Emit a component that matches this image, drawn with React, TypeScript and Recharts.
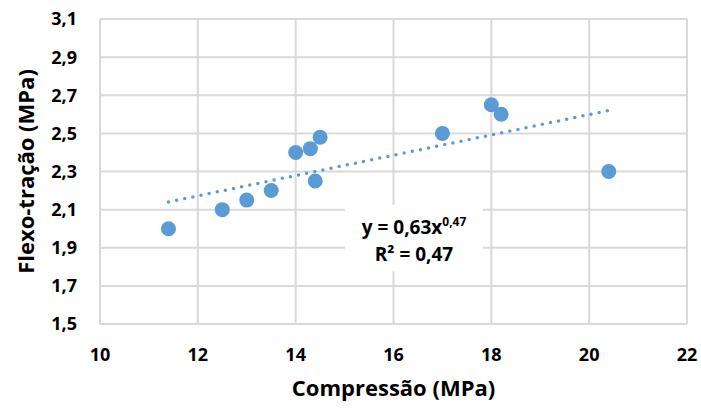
import React from 'react';
import {
  ScatterChart,
  Scatter,
  XAxis,
  YAxis,
  CartesianGrid,
  ReferenceLine,
} from 'recharts';

// Compressão (MPa) vs Flexo-tração (MPa)
const compressao = [11.4, 12.5, 13.0, 13.5, 14.0, 14.3, 14.4, 14.5, 17.0, 18.0, 18.2, 20.4];
const flexoTracao = [2.0, 2.1, 2.15, 2.2, 2.4, 2.42, 2.25, 2.48, 2.5, 2.65, 2.6, 2.3];

// trendline ends as drawn in the source
const trendX = [11.4, 20.4];
const trendY = [2.14, 2.62];

const xTicks = [10, 12, 14, 16, 18, 20, 22];
const yTicks = [1.5, 1.7, 1.9, 2.1, 2.3, 2.5, 2.7, 2.9, 3.1];

const points = compressao.map((x, i) => ({ x, y: flexoTracao[i] }));

const BLUE = '#5B9BD5';
const GRID = '#D9D9D9';
const FONT = '"Open Sans", sans-serif';

const tickStyle = { fontFamily: FONT, fontSize: 18, fontWeight: 700, fill: '#000' };

const Dot = (props: any) => <circle cx={props.cx} cy={props.cy} r={7.5} fill={BLUE} />;

const YTitle = ({ viewBox }: any) => {
  const cx = viewBox.x + 25;
  const cy = viewBox.y + viewBox.height / 2;
  return (
    <text
      x={cx}
      y={cy}
      transform={`rotate(-90 ${cx} ${cy})`}
      textAnchor="middle"
      dominantBaseline="central"
      style={{ fontFamily: FONT, fontSize: 22, fontWeight: 700, fill: '#000' }}
    >
      Flexo-tração (MPa)
    </text>
  );
};

const XTitle = ({ viewBox }: any) => (
  <text
    x={viewBox.x + viewBox.width / 2}
    y={viewBox.y + 63}
    textAnchor="middle"
    dominantBaseline="central"
    style={{ fontFamily: FONT, fontSize: 22, fontWeight: 700, fill: '#000' }}
  >
    Compressão (MPa)
  </text>
);

export default function App() {
  return (
    <div style={{ position: 'absolute', left: 0, top: 0, width: 701, height: 408, background: '#fff' }}>
      <ScatterChart width={701} height={408} margin={{ top: 19, right: 14, left: 0, bottom: 0 }}>
        <CartesianGrid stroke={GRID} strokeWidth={2} />
        <XAxis
          type="number"
          dataKey="x"
          domain={[10, 22]}
          ticks={xTicks}
          height={84}
          tickLine={false}
          tickSize={0}
          tickMargin={24}
          axisLine={{ stroke: GRID, strokeWidth: 2 }}
          tick={tickStyle}
          label={<XTitle />}
        />
        <YAxis
          type="number"
          dataKey="y"
          domain={[1.5, 3.1]}
          ticks={yTicks}
          width={100}
          tickLine={false}
          tickSize={0}
          tickMargin={23}
          axisLine={{ stroke: GRID, strokeWidth: 2 }}
          tick={tickStyle}
          tickFormatter={(v: number) => v.toFixed(1).replace('.', ',')}
          label={<YTitle />}
        />
        <ReferenceLine
          segment={[
            { x: trendX[0], y: trendY[0] },
            { x: trendX[1], y: trendY[1] },
          ]}
          stroke={BLUE}
          strokeWidth={3.5}
          strokeDasharray="0 8.3"
          strokeLinecap="round"
        />
        <Scatter data={points} shape={<Dot />} isAnimationActive={false} />
      </ScatterChart>
      <div
        style={{
          position: 'absolute',
          left: 345,
          top: 205,
          width: 138,
          height: 66,
          background: '#fff',
          fontFamily: FONT,
          fontWeight: 700,
          fontSize: 19,
          color: '#000',
          textAlign: 'center',
          lineHeight: '25px',
          paddingTop: 10,
          boxSizing: 'border-box',
        }}
      >
        <div>
          y = 0,63x<sup style={{ fontSize: 12, verticalAlign: 0, position: 'relative', top: -8 }}>0,47</sup>
        </div>
        <div>R² = 0,47</div>
      </div>
    </div>
  );
}
